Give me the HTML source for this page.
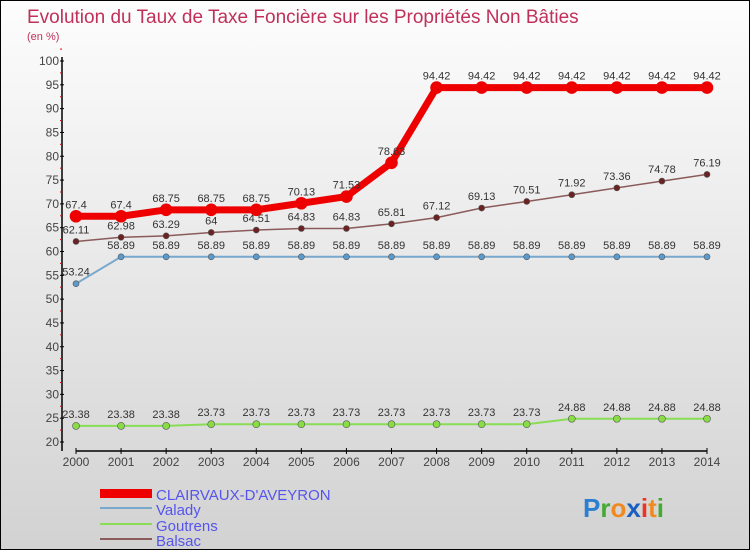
<!DOCTYPE html>
<html><head><meta charset="utf-8"><style>
body{margin:0}
#c{width:748px;height:548px;border:1px solid #000;background:linear-gradient(#fdfdfd,#d2d2d2);position:relative;font-family:"Liberation Sans",sans-serif}
text{font-family:"Liberation Sans",sans-serif}
</style></head><body>
<div id="c">
<svg id="s" width="748" height="548">
<text x="26" y="22" font-size="19" fill="#c0305a">Evolution du Taux de Taxe Foncière sur les Propriétés Non Bâties</text>
<text x="26" y="39" font-size="11" fill="#c0305a">(en %)</text>
<g id="g"></g>
<g>
<rect x="99" y="488" width="52" height="9" fill="#e00"/>
<text x="155" y="499" font-size="15" fill="#5555ee">CLAIRVAUX-D'AVEYRON</text>
<rect x="99" y="506" width="52" height="2" fill="#79a8cc"/>
<text x="155" y="514" font-size="15" fill="#5555ee">Valady</text>
<rect x="99" y="522" width="52" height="2" fill="#88dd55"/>
<text x="155" y="530" font-size="15" fill="#5555ee">Goutrens</text>
<rect x="99" y="537" width="52" height="2" fill="#8b5a5a"/>
<text x="155" y="545" font-size="15" fill="#5555ee">Balsac</text>
</g>
<text x="582" y="516" font-size="26" font-weight="bold"><tspan fill="#2a7fd0">P</tspan><tspan fill="#44aa33">r</tspan><tspan fill="#f08a20">o</tspan><tspan fill="#1a5fc0">x</tspan><tspan fill="#ee3322">i</tspan><tspan fill="#f08a20">t</tspan><tspan fill="#44aa33">i</tspan></text>
</svg></div>
<script>
const years=[2000,2001,2002,2003,2004,2005,2006,2007,2008,2009,2010,2011,2012,2013,2014];
const clairvaux=[67.4,67.4,68.75,68.75,68.75,70.13,71.53,78.63,94.42,94.42,94.42,94.42,94.42,94.42,94.42];
const valady=[53.24,58.89,58.89,58.89,58.89,58.89,58.89,58.89,58.89,58.89,58.89,58.89,58.89,58.89,58.89];
const goutrens=[23.38,23.38,23.38,23.73,23.73,23.73,23.73,23.73,23.73,23.73,23.73,24.88,24.88,24.88,24.88];
const balsac=[62.11,62.98,63.29,64,64.51,64.83,64.83,65.81,67.12,69.13,70.51,71.92,73.36,74.78,76.19];
const yTicks=[20,25,30,35,40,45,50,55,60,65,70,75,80,85,90,95,100];
const NS="http://www.w3.org/2000/svg";
const g=document.getElementById('g');
const X=i=>75+i*(631/(years.length-1));
const Y=v=>441-(v-20)*(381/80);
function el(t,a){const e=document.createElementNS(NS,t);for(const k in a)e.setAttribute(k,a[k]);g.appendChild(e);return e;}
let ax=el('line',{x1:61,y1:56,x2:61,y2:450,stroke:'#000','stroke-width':1.5});


let bx=el('line',{x1:75,y1:450,x2:706,y2:450,stroke:'#000','stroke-width':1.5});


yTicks.forEach(v=>{
 el('line',{x1:59,x2:63,y1:Y(v),y2:Y(v),stroke:'#000'});
 el('line',{x1:59,x2:61,y1:Y(v+2.5),y2:Y(v+2.5),stroke:'#e00'});
 const t=el('text',{x:58,y:Y(v)+4,'font-size':12,fill:'#444','text-anchor':'end'});t.textContent=v;
 
 
});
years.forEach((yr,i)=>{
 el('line',{x1:X(i),x2:X(i),y1:447,y2:453,stroke:'#000'});
 const t=el('text',{x:X(i),y:465,'font-size':12,fill:'#444','text-anchor':'middle'});t.textContent=yr;
 
 
});
function series(data,name,color,lw,r,fill){
 const p=el('polyline',{points:data.map((v,i)=>X(i)+','+Y(v)).join(' '),fill:'none',stroke:color,'stroke-width':lw});
 
 
 data.forEach((v,i)=>{
  const c=el('circle',{cx:X(i),cy:Y(v),r:r,fill:fill,stroke:color==='#ee0000'?'#ee0000':'#555','stroke-width':0.6});
  
  
  const t=el('text',{x:X(i),y:Y(v)-8,'font-size':11,fill:'#333','text-anchor':'middle'});t.textContent=v;
  
  
 });
}
series(goutrens,'goutrens','#88dd55',2,3.5,'#88dd44');
series(valady,'valady','#79a8cc',2,3,'#5a9acc');
series(balsac,'balsac','#8b5a5a',1.5,3,'#6b2222');
series(clairvaux,'clairvaux','#ee0000',7,6,'#ee0000');
</script>
</body></html>
